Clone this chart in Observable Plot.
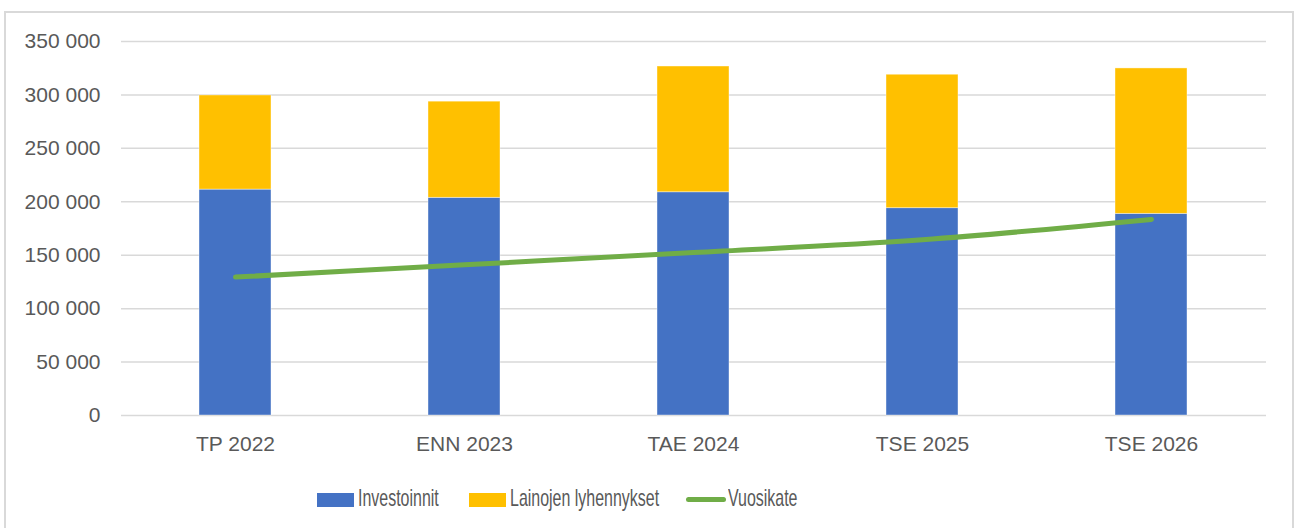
<!DOCTYPE html>
<html>
<head>
<meta charset="utf-8">
<script src="https://cdn.jsdelivr.net/npm/d3@7"></script>
<script src="https://cdn.jsdelivr.net/npm/@observablehq/plot@0.6"></script>
<style>
  html, body { margin: 0; padding: 0; background: #ffffff; }
  body { width: 1298px; height: 528px; position: relative; overflow: hidden; font-family: "Liberation Sans", Arial, sans-serif; }
  #frame { position: absolute; left: 4px; top: 11px; width: 1290px; height: 560px; border: 2px solid #d9d9d9; box-sizing: border-box; }
  #chart { position: absolute; left: 0; top: 0; }
  .sw { position: absolute; }
  .lt { position: absolute; font-size: 24px; color: #595959; white-space: nowrap; transform: scaleX(0.665); transform-origin: left center; line-height: 28px; }
</style>
</head>
<body>
<div id="frame"></div>
<div id="chart"></div>
<div id="legend"></div>
<script>
const categories = ["TP 2022", "ENN 2023", "TAE 2024", "TSE 2025", "TSE 2026"];
const investoinnit = [211400, 203700, 208900, 194000, 188700];
const lainojenLyhennykset = [88100, 90000, 117700, 124900, 136100];
const vuosikate = [129500, 141000, 152500, 164500, 183500];
const seriesNames = ["Investoinnit", "Lainojen lyhennykset", "Vuosikate"];
const seriesColors = ["#4472C4", "#FFC000", "#70AD47"];
const yTicks = [0, 50000, 100000, 150000, 200000, 250000, 300000, 350000];

const barData = [
  ...categories.map((c, i) => ({cat: c, series: seriesNames[0], value: investoinnit[i]})),
  ...categories.map((c, i) => ({cat: c, series: seriesNames[1], value: lainojenLyhennykset[i]}))
];
const lineData = categories.map((c, i) => ({cat: c, value: vuosikate[i]}));

const fmt = v => d3.format(",")(v).replace(/,/g, " ");

const chart = Plot.plot({
  width: 1298,
  height: 460,
  marginLeft: 121,
  marginRight: 32,
  marginTop: 41,
  marginBottom: 45,
  style: {background: "transparent", fontFamily: "'Liberation Sans', Arial, sans-serif", fontSize: "21px", color: "#595959"},
  x: {domain: categories, paddingInner: 0.685, paddingOuter: 0.3425, label: null},
  y: {domain: [0, 350000], label: null},
  color: {domain: seriesNames, range: seriesColors},
  marks: [
    Plot.ruleY(yTicks, {stroke: "#d9d9d9", strokeWidth: 1.5}),
    Plot.barY(barData, {x: "cat", y: "value", fill: "series", stroke: "#ffffff", strokeOpacity: 0.5, strokeWidth: 0.8}),
    Plot.line(lineData, {x: "cat", y: "value", stroke: seriesColors[2], strokeWidth: 5, strokeLinecap: "round", curve: "monotone-x"}),
    Plot.axisY({ticks: yTicks, tickSize: 0, tickPadding: 21, tickFormat: fmt, label: null}),
    Plot.axisX({tickSize: 0, tickPadding: 21, label: null})
  ]
});
document.getElementById("chart").appendChild(chart);

// Legend
const legendItems = [
  {name: seriesNames[0], color: seriesColors[0], type: "rect", sx: 317, tx: 358},
  {name: seriesNames[1], color: seriesColors[1], type: "rect", sx: 469, tx: 510},
  {name: seriesNames[2], color: seriesColors[2], type: "line", sx: 686, tx: 728}
];
const lg = document.getElementById("legend");
for (const it of legendItems) {
  const sw = document.createElement("div");
  sw.className = "sw";
  if (it.type === "rect") {
    sw.style.cssText = `left:${it.sx}px;top:493px;width:37px;height:14px;background:${it.color};`;
  } else {
    sw.style.cssText = `left:${it.sx}px;top:497px;width:40px;height:5px;border-radius:3px;background:${it.color};`;
  }
  lg.appendChild(sw);
  const t = document.createElement("div");
  t.className = "lt";
  t.style.left = it.tx + "px";
  t.style.top = "484px";
  t.textContent = it.name;
  lg.appendChild(t);
}
</script>
</body>
</html>
